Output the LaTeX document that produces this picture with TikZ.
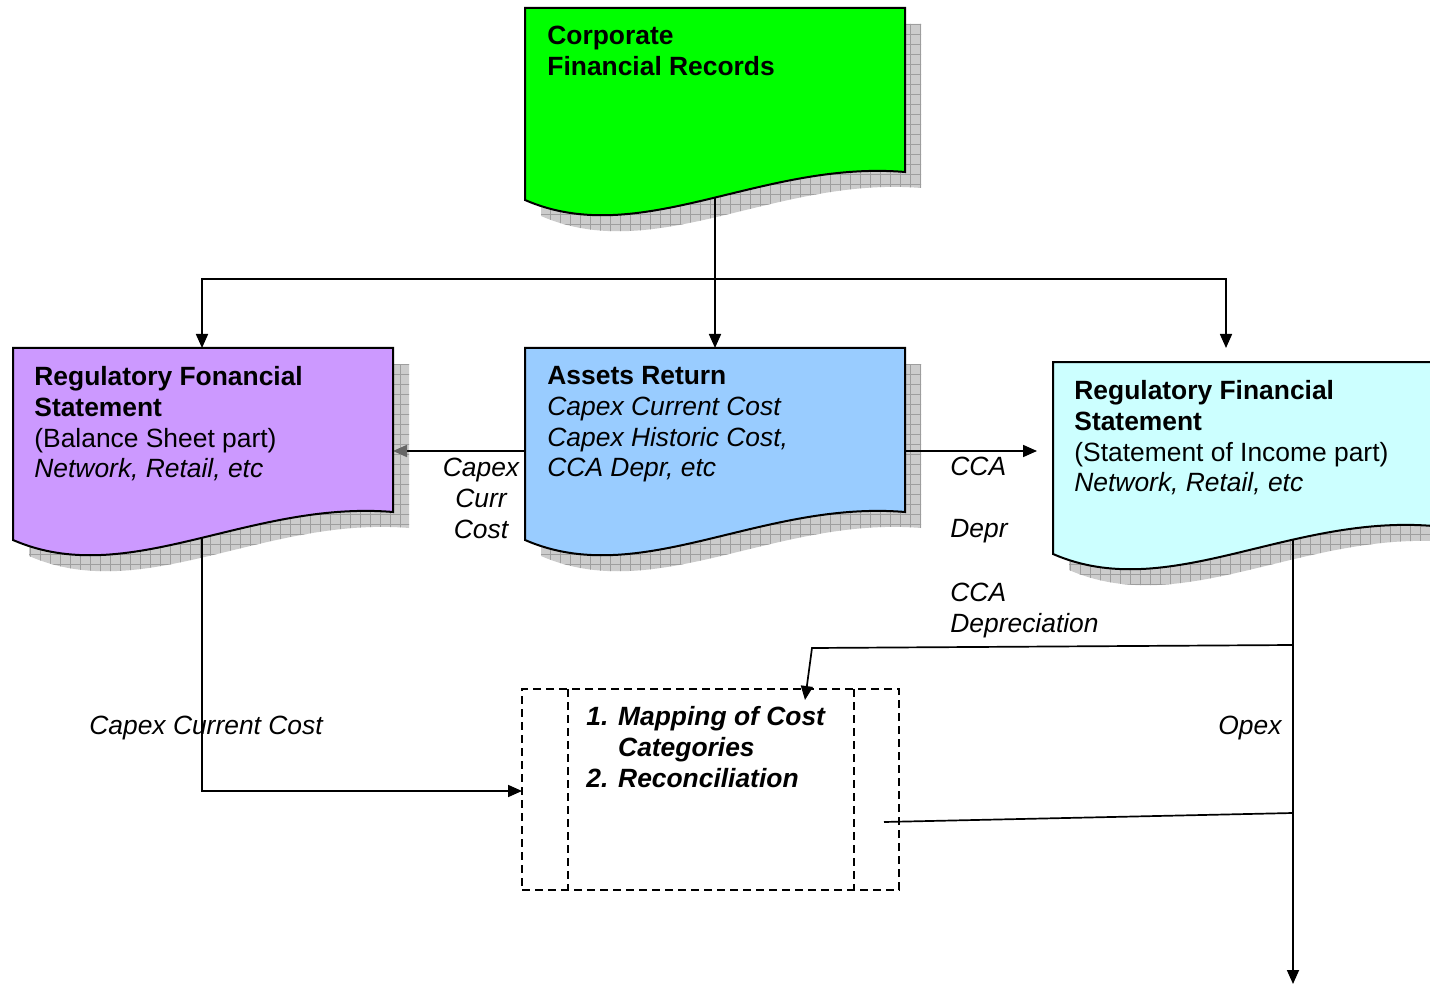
\documentclass[tikz,border=0pt]{standalone}
\usepackage{fontspec}
\setmainfont{Liberation Sans}
\usetikzlibrary{arrows.meta,patterns.meta,calc}
\definecolor{cgreen}{HTML}{00FF00}
\definecolor{cpurple}{HTML}{CC99FF}
\definecolor{cblue}{HTML}{99CCFF}
\definecolor{ccyan}{HTML}{CCFFFF}
\newcommand\docshadow[5]{%
  \fill[black!20,shift={(16,16)}] (#1,#2) -- (#3,#2) -- (#3,#4) .. controls ($(#1,#5)+(235,-40)$) and ($(#1,#5)+(115,50)$) .. (#1,#5) -- cycle;
  \fill[pattern={Lines[angle=0,distance=5pt,line width=0.3pt]},pattern color=black!38,shift={(16,16)}] (#1,#2) -- (#3,#2) -- (#3,#4) .. controls ($(#1,#5)+(235,-40)$) and ($(#1,#5)+(115,50)$) .. (#1,#5) -- cycle;
  \fill[pattern={Lines[angle=90,distance=5pt,line width=0.3pt]},pattern color=black!38,shift={(16,16)}] (#1,#2) -- (#3,#2) -- (#3,#4) .. controls ($(#1,#5)+(235,-40)$) and ($(#1,#5)+(115,50)$) .. (#1,#5) -- cycle;
}
\newcommand\docbody[6]{%
  \filldraw[fill=#6,draw=black,line width=1pt,line join=miter] (#1,#2) -- (#3,#2) -- (#3,#4) .. controls ($(#1,#5)+(235,-40)$) and ($(#1,#5)+(115,50)$) .. (#1,#5) -- cycle;
}
\begin{document}
\begin{tikzpicture}[x=0.5pt,y=-0.5pt,
  txt/.style={inner sep=0pt,anchor=north west,align=left,font=\fontsize{13.2}{15.4}\selectfont},
  ctxt/.style={inner sep=0pt,anchor=north,align=center,font=\fontsize{13.2}{15.4}\selectfont\itshape},
  conn/.style={line width=0.85pt},
  arr/.style={conn,-{Triangle[length=7pt,width=6pt]}},
  dbox/.style={line width=0.6pt,dash pattern=on 4pt off 2.5pt}]
\useasboundingbox[fill=white] (0,0) rectangle (1430,984);
% shadows
\docshadow{525}{8}{905}{172}{200}
\docshadow{13}{348}{393}{512}{540}
\docshadow{525}{348}{905}{512}{540}
\docshadow{1053}{362}{1433}{526}{554}
% named points
\coordinate (greenB) at (715,195);
\coordinate (blueT) at (715,348);
\coordinate (split) at (715,279);
\coordinate (purpleT) at (202,348);
\coordinate (cyanIn) at (1226,348);
\coordinate (blueL) at (525,451);
\coordinate (purpleR) at (393,451);
\coordinate (blueR) at (905,451);
\coordinate (cyanL) at (1037,451);
\coordinate (purpleB) at (202,530);
\coordinate (cyanB) at (1293,540);
\coordinate (exit) at (1293,984);
\coordinate (j1) at (1293,645);
\coordinate (k1) at (812,648);
\coordinate (j2) at (1293,813);
\coordinate (procW) at (522,791);
\coordinate (procT) at (805,700);
\coordinate (k2) at (884,822);
% connectors
\draw[arr] (greenB) -- (blueT);
\draw[arr] (split) -| (purpleT);
\draw[arr] (split) -| (cyanIn);
\draw[conn,-{Triangle[length=7pt,width=6pt,color=black!60]}] (blueL) -- (purpleR);
\draw[arr] (blueR) -- (cyanL);
\draw[arr] (cyanB) -- (exit);
\draw[arr] (purpleB) |- (procW);
% bodies
\docbody{525}{8}{905}{172}{200}{cgreen}
\docbody{13}{348}{393}{512}{540}{cpurple}
\docbody{525}{348}{905}{512}{540}{cblue}
\docbody{1053}{362}{1433}{526}{554}{ccyan}
% process box
\node (proc) [draw,dbox,minimum width=188.5pt,minimum height=100.5pt,inner sep=0pt] at (710.5,789.5) {};
\draw[dbox] (568,689) -- (568,890);
\draw[dbox] (854,689) -- (854,890);
\draw[arr] (j1) -- (k1) -- (procT);
\draw[conn] (j2) -- (k2);
% texts
\node (tgreen) [txt,font=\fontsize{13.2}{15.4}\selectfont\bfseries] at (547,26) {Corporate\\Financial Records};
\node (tpurple) [txt] at (34,366) {\textbf{Regulatory Fonancial}\\\textbf{Statement}\\(Balance Sheet part)\\\textit{Network, Retail, etc}};
\node (tblue) [txt] at (547,366) {\textbf{Assets Return}\\\textit{Capex Current Cost}\\\textit{Capex Historic Cost,}\\\textit{CCA Depr, etc}};
\node (tcyan) [txt] at (1074,380) {\textbf{Regulatory Financial}\\\textbf{Statement}\\(Statement of Income part)\\\textit{Network, Retail, etc}};
\node (lcapex) [ctxt] at (481,458) {Capex\\Curr\\Cost};
\node (lcca) [txt,font=\fontsize{13.2}{15.4}\selectfont\itshape] at (950,457) {CCA};
\node (ldepr) [txt,font=\fontsize{13.2}{15.4}\selectfont\itshape] at (950,519) {Depr};
\node (lccad) [txt,font=\fontsize{13.2}{15.4}\selectfont\itshape] at (950,583) {CCA\\Depreciation};
\node (lcapcc) [txt,font=\fontsize{13.2}{15.4}\selectfont\itshape] at (89,716) {Capex Current Cost};
\node (lopex) [txt,font=\fontsize{13.2}{15.4}\selectfont\itshape] at (1218,716) {Opex};
\node (tproc) [txt,font=\fontsize{13.2}{15.4}\selectfont\bfseries\itshape] at (586,706) {1. Mapping of Cost\\\hphantom{1. }Categories\\2. Reconciliation};
\end{tikzpicture}
\end{document}
